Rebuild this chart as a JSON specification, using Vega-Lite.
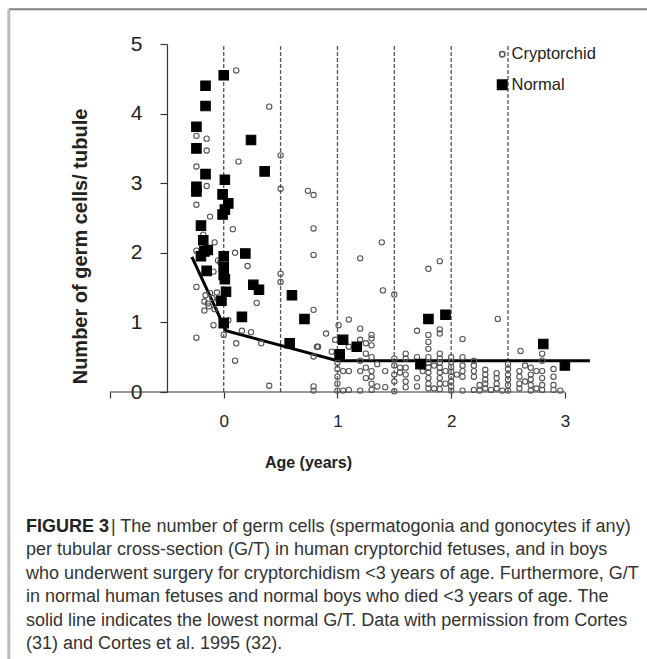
{
  "$schema": "https://vega.github.io/schema/vega-lite/v6.json",
  "autosize": {"type": "none"},
  "width": 489,
  "height": 348,
  "padding": {"left": 110, "top": 44, "right": 48, "bottom": 267},
  "background": "white",
  "config": {"view": {"stroke": null}},
  "datasets": {
    "points": [
      {"age": 0.11, "gt": 4.62, "group": "Cryptorchid"},
      {"age": 0.40, "gt": 4.10, "group": "Cryptorchid"},
      {"age": -0.24, "gt": 3.68, "group": "Cryptorchid"},
      {"age": -0.15, "gt": 3.64, "group": "Cryptorchid"},
      {"age": -0.15, "gt": 3.47, "group": "Cryptorchid"},
      {"age": 0.13, "gt": 3.31, "group": "Cryptorchid"},
      {"age": 0.50, "gt": 3.40, "group": "Cryptorchid"},
      {"age": -0.24, "gt": 3.24, "group": "Cryptorchid"},
      {"age": -0.15, "gt": 2.96, "group": "Cryptorchid"},
      {"age": 0.50, "gt": 2.92, "group": "Cryptorchid"},
      {"age": 0.74, "gt": 2.89, "group": "Cryptorchid"},
      {"age": 0.79, "gt": 2.83, "group": "Cryptorchid"},
      {"age": -0.24, "gt": 2.69, "group": "Cryptorchid"},
      {"age": -0.12, "gt": 2.52, "group": "Cryptorchid"},
      {"age": 0.08, "gt": 2.34, "group": "Cryptorchid"},
      {"age": 0.79, "gt": 2.35, "group": "Cryptorchid"},
      {"age": -0.18, "gt": 2.26, "group": "Cryptorchid"},
      {"age": -0.08, "gt": 2.15, "group": "Cryptorchid"},
      {"age": -0.24, "gt": 2.03, "group": "Cryptorchid"},
      {"age": 0.10, "gt": 2.00, "group": "Cryptorchid"},
      {"age": 0.21, "gt": 1.81, "group": "Cryptorchid"},
      {"age": 0.79, "gt": 1.97, "group": "Cryptorchid"},
      {"age": -0.05, "gt": 1.89, "group": "Cryptorchid"},
      {"age": -0.03, "gt": 1.86, "group": "Cryptorchid"},
      {"age": -0.09, "gt": 1.73, "group": "Cryptorchid"},
      {"age": -0.24, "gt": 1.51, "group": "Cryptorchid"},
      {"age": 0.50, "gt": 1.70, "group": "Cryptorchid"},
      {"age": 0.50, "gt": 1.58, "group": "Cryptorchid"},
      {"age": -0.16, "gt": 1.39, "group": "Cryptorchid"},
      {"age": -0.12, "gt": 1.42, "group": "Cryptorchid"},
      {"age": -0.06, "gt": 1.43, "group": "Cryptorchid"},
      {"age": -0.10, "gt": 1.35, "group": "Cryptorchid"},
      {"age": -0.17, "gt": 1.30, "group": "Cryptorchid"},
      {"age": -0.13, "gt": 1.23, "group": "Cryptorchid"},
      {"age": -0.17, "gt": 1.17, "group": "Cryptorchid"},
      {"age": -0.08, "gt": 1.19, "group": "Cryptorchid"},
      {"age": -0.05, "gt": 1.33, "group": "Cryptorchid"},
      {"age": -0.14, "gt": 1.27, "group": "Cryptorchid"},
      {"age": 0.29, "gt": 1.28, "group": "Cryptorchid"},
      {"age": 0.04, "gt": 1.03, "group": "Cryptorchid"},
      {"age": -0.09, "gt": 0.96, "group": "Cryptorchid"},
      {"age": -0.24, "gt": 0.78, "group": "Cryptorchid"},
      {"age": 0.00, "gt": 0.82, "group": "Cryptorchid"},
      {"age": 0.16, "gt": 0.88, "group": "Cryptorchid"},
      {"age": 0.24, "gt": 0.86, "group": "Cryptorchid"},
      {"age": 0.33, "gt": 0.70, "group": "Cryptorchid"},
      {"age": 0.11, "gt": 0.70, "group": "Cryptorchid"},
      {"age": 0.10, "gt": 0.45, "group": "Cryptorchid"},
      {"age": 0.40, "gt": 0.09, "group": "Cryptorchid"},
      {"age": 0.79, "gt": 1.18, "group": "Cryptorchid"},
      {"age": 0.82, "gt": 0.65, "group": "Cryptorchid"},
      {"age": 0.79, "gt": 0.51, "group": "Cryptorchid"},
      {"age": 0.79, "gt": 0.08, "group": "Cryptorchid"},
      {"age": 0.79, "gt": 0.02, "group": "Cryptorchid"},
      {"age": 1.39, "gt": 2.15, "group": "Cryptorchid"},
      {"age": 1.20, "gt": 1.92, "group": "Cryptorchid"},
      {"age": 1.40, "gt": 1.46, "group": "Cryptorchid"},
      {"age": 1.50, "gt": 1.40, "group": "Cryptorchid"},
      {"age": 1.80, "gt": 1.77, "group": "Cryptorchid"},
      {"age": 1.90, "gt": 1.88, "group": "Cryptorchid"},
      {"age": 2.41, "gt": 1.05, "group": "Cryptorchid"},
      {"age": 2.10, "gt": 0.76, "group": "Cryptorchid"},
      {"age": 2.61, "gt": 0.59, "group": "Cryptorchid"},
      {"age": 1.10, "gt": 1.04, "group": "Cryptorchid"},
      {"age": 1.20, "gt": 0.91, "group": "Cryptorchid"},
      {"age": 1.01, "gt": 0.96, "group": "Cryptorchid"},
      {"age": 0.90, "gt": 0.84, "group": "Cryptorchid"},
      {"age": 0.83, "gt": 0.65, "group": "Cryptorchid"},
      {"age": 1.70, "gt": 0.88, "group": "Cryptorchid"},
      {"age": 1.80, "gt": 0.82, "group": "Cryptorchid"},
      {"age": 1.80, "gt": 0.72, "group": "Cryptorchid"},
      {"age": 1.80, "gt": 0.62, "group": "Cryptorchid"},
      {"age": 1.90, "gt": 0.90, "group": "Cryptorchid"},
      {"age": 1.90, "gt": 0.84, "group": "Cryptorchid"},
      {"age": 1.30, "gt": 0.77, "group": "Cryptorchid"},
      {"age": 1.30, "gt": 0.67, "group": "Cryptorchid"},
      {"age": 1.25, "gt": 0.70, "group": "Cryptorchid"},
      {"age": 1.10, "gt": 0.65, "group": "Cryptorchid"},
      {"age": 0.95, "gt": 0.58, "group": "Cryptorchid"},
      {"age": 1.00, "gt": 0.52, "group": "Cryptorchid"},
      {"age": 1.00, "gt": 0.42, "group": "Cryptorchid"},
      {"age": 1.00, "gt": 0.33, "group": "Cryptorchid"},
      {"age": 1.00, "gt": 0.22, "group": "Cryptorchid"},
      {"age": 1.00, "gt": 0.12, "group": "Cryptorchid"},
      {"age": 1.00, "gt": 0.02, "group": "Cryptorchid"},
      {"age": 0.98, "gt": 0.75, "group": "Cryptorchid"},
      {"age": 1.05, "gt": 0.30, "group": "Cryptorchid"},
      {"age": 1.05, "gt": 0.02, "group": "Cryptorchid"},
      {"age": 1.10, "gt": 0.30, "group": "Cryptorchid"},
      {"age": 1.10, "gt": 0.03, "group": "Cryptorchid"},
      {"age": 1.20, "gt": 0.45, "group": "Cryptorchid"},
      {"age": 1.20, "gt": 0.30, "group": "Cryptorchid"},
      {"age": 1.20, "gt": 0.02, "group": "Cryptorchid"},
      {"age": 1.20, "gt": 0.75, "group": "Cryptorchid"},
      {"age": 1.25, "gt": 0.55, "group": "Cryptorchid"},
      {"age": 1.25, "gt": 0.35, "group": "Cryptorchid"},
      {"age": 1.25, "gt": 0.20, "group": "Cryptorchid"},
      {"age": 1.30, "gt": 0.50, "group": "Cryptorchid"},
      {"age": 1.30, "gt": 0.30, "group": "Cryptorchid"},
      {"age": 1.30, "gt": 0.22, "group": "Cryptorchid"},
      {"age": 1.30, "gt": 0.12, "group": "Cryptorchid"},
      {"age": 1.30, "gt": 0.03, "group": "Cryptorchid"},
      {"age": 1.30, "gt": 0.82, "group": "Cryptorchid"},
      {"age": 1.35, "gt": 0.40, "group": "Cryptorchid"},
      {"age": 1.35, "gt": 0.08, "group": "Cryptorchid"},
      {"age": 1.42, "gt": 0.30, "group": "Cryptorchid"},
      {"age": 1.42, "gt": 0.07, "group": "Cryptorchid"},
      {"age": 1.50, "gt": 0.48, "group": "Cryptorchid"},
      {"age": 1.50, "gt": 0.38, "group": "Cryptorchid"},
      {"age": 1.50, "gt": 0.25, "group": "Cryptorchid"},
      {"age": 1.50, "gt": 0.15, "group": "Cryptorchid"},
      {"age": 1.50, "gt": 0.01, "group": "Cryptorchid"},
      {"age": 1.55, "gt": 0.35, "group": "Cryptorchid"},
      {"age": 1.55, "gt": 0.28, "group": "Cryptorchid"},
      {"age": 1.60, "gt": 0.55, "group": "Cryptorchid"},
      {"age": 1.60, "gt": 0.48, "group": "Cryptorchid"},
      {"age": 1.60, "gt": 0.35, "group": "Cryptorchid"},
      {"age": 1.60, "gt": 0.25, "group": "Cryptorchid"},
      {"age": 1.60, "gt": 0.15, "group": "Cryptorchid"},
      {"age": 1.60, "gt": 0.07, "group": "Cryptorchid"},
      {"age": 1.70, "gt": 0.50, "group": "Cryptorchid"},
      {"age": 1.70, "gt": 0.20, "group": "Cryptorchid"},
      {"age": 1.70, "gt": 0.08, "group": "Cryptorchid"},
      {"age": 1.75, "gt": 0.38, "group": "Cryptorchid"},
      {"age": 1.75, "gt": 0.30, "group": "Cryptorchid"},
      {"age": 1.80, "gt": 0.50, "group": "Cryptorchid"},
      {"age": 1.80, "gt": 0.42, "group": "Cryptorchid"},
      {"age": 1.80, "gt": 0.35, "group": "Cryptorchid"},
      {"age": 1.80, "gt": 0.28, "group": "Cryptorchid"},
      {"age": 1.80, "gt": 0.20, "group": "Cryptorchid"},
      {"age": 1.80, "gt": 0.12, "group": "Cryptorchid"},
      {"age": 1.80, "gt": 0.05, "group": "Cryptorchid"},
      {"age": 1.85, "gt": 0.38, "group": "Cryptorchid"},
      {"age": 1.85, "gt": 0.05, "group": "Cryptorchid"},
      {"age": 1.90, "gt": 0.55, "group": "Cryptorchid"},
      {"age": 1.90, "gt": 0.48, "group": "Cryptorchid"},
      {"age": 1.90, "gt": 0.42, "group": "Cryptorchid"},
      {"age": 1.90, "gt": 0.35, "group": "Cryptorchid"},
      {"age": 1.90, "gt": 0.28, "group": "Cryptorchid"},
      {"age": 1.90, "gt": 0.20, "group": "Cryptorchid"},
      {"age": 1.90, "gt": 0.12, "group": "Cryptorchid"},
      {"age": 1.90, "gt": 0.04, "group": "Cryptorchid"},
      {"age": 1.95, "gt": 0.30, "group": "Cryptorchid"},
      {"age": 1.95, "gt": 0.12, "group": "Cryptorchid"},
      {"age": 2.00, "gt": 0.50, "group": "Cryptorchid"},
      {"age": 2.00, "gt": 0.43, "group": "Cryptorchid"},
      {"age": 2.00, "gt": 0.36, "group": "Cryptorchid"},
      {"age": 2.00, "gt": 0.29, "group": "Cryptorchid"},
      {"age": 2.00, "gt": 0.22, "group": "Cryptorchid"},
      {"age": 2.00, "gt": 0.15, "group": "Cryptorchid"},
      {"age": 2.00, "gt": 0.08, "group": "Cryptorchid"},
      {"age": 2.00, "gt": 0.02, "group": "Cryptorchid"},
      {"age": 2.05, "gt": 0.25, "group": "Cryptorchid"},
      {"age": 2.10, "gt": 0.50, "group": "Cryptorchid"},
      {"age": 2.10, "gt": 0.38, "group": "Cryptorchid"},
      {"age": 2.10, "gt": 0.30, "group": "Cryptorchid"},
      {"age": 2.10, "gt": 0.22, "group": "Cryptorchid"},
      {"age": 2.10, "gt": 0.02, "group": "Cryptorchid"},
      {"age": 2.20, "gt": 0.45, "group": "Cryptorchid"},
      {"age": 2.20, "gt": 0.38, "group": "Cryptorchid"},
      {"age": 2.20, "gt": 0.30, "group": "Cryptorchid"},
      {"age": 2.20, "gt": 0.22, "group": "Cryptorchid"},
      {"age": 2.20, "gt": 0.03, "group": "Cryptorchid"},
      {"age": 2.25, "gt": 0.10, "group": "Cryptorchid"},
      {"age": 2.25, "gt": 0.02, "group": "Cryptorchid"},
      {"age": 2.30, "gt": 0.32, "group": "Cryptorchid"},
      {"age": 2.30, "gt": 0.25, "group": "Cryptorchid"},
      {"age": 2.30, "gt": 0.18, "group": "Cryptorchid"},
      {"age": 2.30, "gt": 0.12, "group": "Cryptorchid"},
      {"age": 2.30, "gt": 0.05, "group": "Cryptorchid"},
      {"age": 2.35, "gt": 0.03, "group": "Cryptorchid"},
      {"age": 2.40, "gt": 0.27, "group": "Cryptorchid"},
      {"age": 2.40, "gt": 0.20, "group": "Cryptorchid"},
      {"age": 2.40, "gt": 0.12, "group": "Cryptorchid"},
      {"age": 2.40, "gt": 0.05, "group": "Cryptorchid"},
      {"age": 2.45, "gt": 0.02, "group": "Cryptorchid"},
      {"age": 2.50, "gt": 0.40, "group": "Cryptorchid"},
      {"age": 2.50, "gt": 0.33, "group": "Cryptorchid"},
      {"age": 2.50, "gt": 0.25, "group": "Cryptorchid"},
      {"age": 2.50, "gt": 0.18, "group": "Cryptorchid"},
      {"age": 2.50, "gt": 0.10, "group": "Cryptorchid"},
      {"age": 2.50, "gt": 0.02, "group": "Cryptorchid"},
      {"age": 2.60, "gt": 0.30, "group": "Cryptorchid"},
      {"age": 2.60, "gt": 0.22, "group": "Cryptorchid"},
      {"age": 2.60, "gt": 0.12, "group": "Cryptorchid"},
      {"age": 2.60, "gt": 0.05, "group": "Cryptorchid"},
      {"age": 2.65, "gt": 0.38, "group": "Cryptorchid"},
      {"age": 2.65, "gt": 0.15, "group": "Cryptorchid"},
      {"age": 2.70, "gt": 0.35, "group": "Cryptorchid"},
      {"age": 2.70, "gt": 0.25, "group": "Cryptorchid"},
      {"age": 2.70, "gt": 0.18, "group": "Cryptorchid"},
      {"age": 2.70, "gt": 0.10, "group": "Cryptorchid"},
      {"age": 2.70, "gt": 0.02, "group": "Cryptorchid"},
      {"age": 2.75, "gt": 0.30, "group": "Cryptorchid"},
      {"age": 2.75, "gt": 0.05, "group": "Cryptorchid"},
      {"age": 2.80, "gt": 0.55, "group": "Cryptorchid"},
      {"age": 2.80, "gt": 0.45, "group": "Cryptorchid"},
      {"age": 2.80, "gt": 0.30, "group": "Cryptorchid"},
      {"age": 2.80, "gt": 0.20, "group": "Cryptorchid"},
      {"age": 2.80, "gt": 0.10, "group": "Cryptorchid"},
      {"age": 2.80, "gt": 0.03, "group": "Cryptorchid"},
      {"age": 2.90, "gt": 0.33, "group": "Cryptorchid"},
      {"age": 2.90, "gt": 0.22, "group": "Cryptorchid"},
      {"age": 2.90, "gt": 0.10, "group": "Cryptorchid"},
      {"age": 2.90, "gt": 0.03, "group": "Cryptorchid"},
      {"age": 2.96, "gt": 0.02, "group": "Cryptorchid"},
      {"age": 0.00, "gt": 4.55, "group": "Normal"},
      {"age": -0.16, "gt": 4.40, "group": "Normal"},
      {"age": -0.16, "gt": 4.11, "group": "Normal"},
      {"age": -0.24, "gt": 3.81, "group": "Normal"},
      {"age": -0.24, "gt": 3.50, "group": "Normal"},
      {"age": 0.24, "gt": 3.62, "group": "Normal"},
      {"age": -0.16, "gt": 3.13, "group": "Normal"},
      {"age": 0.36, "gt": 3.17, "group": "Normal"},
      {"age": 0.01, "gt": 3.05, "group": "Normal"},
      {"age": -0.24, "gt": 2.95, "group": "Normal"},
      {"age": -0.24, "gt": 2.88, "group": "Normal"},
      {"age": -0.01, "gt": 2.84, "group": "Normal"},
      {"age": 0.04, "gt": 2.71, "group": "Normal"},
      {"age": 0.01, "gt": 2.62, "group": "Normal"},
      {"age": -0.01, "gt": 2.55, "group": "Normal"},
      {"age": -0.20, "gt": 2.39, "group": "Normal"},
      {"age": -0.18, "gt": 2.18, "group": "Normal"},
      {"age": -0.17, "gt": 2.02, "group": "Normal"},
      {"age": -0.20, "gt": 1.95, "group": "Normal"},
      {"age": -0.14, "gt": 2.04, "group": "Normal"},
      {"age": -0.15, "gt": 1.74, "group": "Normal"},
      {"age": 0.00, "gt": 1.95, "group": "Normal"},
      {"age": 0.00, "gt": 1.80, "group": "Normal"},
      {"age": 0.00, "gt": 1.68, "group": "Normal"},
      {"age": 0.01, "gt": 1.62, "group": "Normal"},
      {"age": 0.02, "gt": 1.44, "group": "Normal"},
      {"age": -0.02, "gt": 1.31, "group": "Normal"},
      {"age": 0.00, "gt": 0.99, "group": "Normal"},
      {"age": 0.19, "gt": 1.99, "group": "Normal"},
      {"age": 0.26, "gt": 1.54, "group": "Normal"},
      {"age": 0.31, "gt": 1.47, "group": "Normal"},
      {"age": 0.16, "gt": 1.08, "group": "Normal"},
      {"age": 0.60, "gt": 1.39, "group": "Normal"},
      {"age": 0.71, "gt": 1.05, "group": "Normal"},
      {"age": 0.58, "gt": 0.70, "group": "Normal"},
      {"age": 1.05, "gt": 0.75, "group": "Normal"},
      {"age": 1.17, "gt": 0.65, "group": "Normal"},
      {"age": 1.02, "gt": 0.54, "group": "Normal"},
      {"age": 1.73, "gt": 0.40, "group": "Normal"},
      {"age": 1.80, "gt": 1.05, "group": "Normal"},
      {"age": 1.95, "gt": 1.11, "group": "Normal"},
      {"age": 2.81, "gt": 0.69, "group": "Normal"},
      {"age": 3.00, "gt": 0.38, "group": "Normal"}
    ],
    "lowest": [
      {"age": -0.28, "gt": 1.94},
      {"age": 0.02, "gt": 0.88},
      {"age": 1.00, "gt": 0.45},
      {"age": 3.22, "gt": 0.45}
    ],
    "cuts": [
      {"age": 0}, {"age": 0.5}, {"age": 1}, {"age": 1.5}, {"age": 2}, {"age": 2.5}
    ],
    "one": [{}]
  },
  "title": {
    "text": "FIGURE 3",
    "subtitle": [
      "\u200b\u00a0\u00a0\u00a0\u00a0\u00a0\u00a0\u00a0\u00a0\u00a0\u00a0\u00a0\u00a0\u00a0\u00a0\u00a0\u00a0\u00a0| The number of germ cells (spermatogonia and gonocytes if any)",
      "per tubular cross-section (G/T) in human cryptorchid fetuses, and in boys",
      "who underwent surgery for cryptorchidism <3 years of age. Furthermore, G/T",
      "in normal human fetuses and normal boys who died <3 years of age. The",
      "solid line indicates the lowest normal G/T. Data with permission from Cortes",
      "(31) and Cortes et al. 1995 (32)."
    ],
    "orient": "bottom",
    "anchor": "start",
    "frame": "group",
    "dx": -84,
    "offset": -143,
    "font": "Liberation Sans",
    "fontSize": 18,
    "fontWeight": "bold",
    "color": "#222222",
    "lineHeight": 23.5,
    "subtitleFont": "Liberation Sans",
    "subtitleFontSize": 18,
    "subtitleColor": "#333333",
    "subtitleLineHeight": 23.5,
    "subtitlePadding": -18
  },
  "layer": [
    {
      "data": {"name": "cuts"},
      "mark": {"type": "rule", "color": "#555555", "strokeWidth": 1.3, "strokeDash": [4, 2]},
      "encoding": {
        "x": {"field": "age", "type": "quantitative"},
        "y": {"datum": 0, "type": "quantitative"},
        "y2": {"datum": 5}
      }
    },
    {
      "data": {"name": "one"},
      "mark": {"type": "rule", "color": "#333333", "strokeWidth": 1.2},
      "encoding": {
        "x": {"datum": -1, "type": "quantitative"},
        "x2": {"datum": 3},
        "y": {"datum": 0, "type": "quantitative"}
      }
    },
    {
      "data": {"name": "one"},
      "mark": {"type": "rule", "color": "#808080", "strokeWidth": 2},
      "encoding": {
        "x": {"datum": -1.89, "type": "quantitative"},
        "x2": {"datum": 3.75},
        "y": {"datum": 5.5, "type": "quantitative"}
      }
    },
    {
      "data": {"name": "one"},
      "mark": {"type": "rule", "color": "#bbbbbb", "strokeWidth": 3},
      "encoding": {
        "x": {"datum": -1.89, "type": "quantitative"},
        "y": {"datum": 5.5, "type": "quantitative"},
        "y2": {"datum": -3.84}
      }
    },
    {
      "data": {"name": "lowest"},
      "mark": {"type": "line", "color": "#000000", "strokeWidth": 3},
      "encoding": {
        "x": {"field": "age", "type": "quantitative"},
        "y": {"field": "gt", "type": "quantitative"}
      }
    },
    {
      "data": {"name": "points"},
      "mark": {"type": "point", "opacity": 1, "strokeWidth": 1.1},
      "encoding": {
        "x": {
          "field": "age",
          "type": "quantitative",
          "scale": {"domain": [-1, 3.3], "nice": false, "zero": false},
          "axis": {
            "title": "Age (years)",
            "titleFont": "Liberation Sans",
            "titleFontSize": 16,
            "titleFontWeight": "bold",
            "titleColor": "#222222",
            "titleX": 198,
            "titleY": 70,
            "titleBaseline": "middle",
            "domain": false,
            "grid": false,
            "values": [-1, 0, 1, 2, 3],
            "format": "d",
            "labelExpr": "datum.value < 0 ? '' : datum.label",
            "tickSize": 6,
            "tickColor": "#333333",
            "tickWidth": 1.2,
            "labelFont": "Liberation Sans Narrow, Liberation Sans",
            "labelFontSize": 17,
            "labelColor": "#222222",
            "labelPadding": 15
          }
        },
        "y": {
          "field": "gt",
          "type": "quantitative",
          "scale": {"domain": [0, 5], "nice": false},
          "axis": {
            "title": "Number of germ cells/ tubule",
            "titleFont": "Liberation Sans",
            "titleFontSize": 20,
            "titleFontWeight": "bold",
            "titleColor": "#222222",
            "titlePadding": 40,
            "titleY": 202,
            "offset": -57,
            "values": [0, 1, 2, 3, 4, 5],
            "format": "d",
            "grid": false,
            "domainColor": "#333333",
            "domainWidth": 1.2,
            "tickSize": 7,
            "tickColor": "#333333",
            "tickWidth": 1.2,
            "labelFont": "Liberation Sans Narrow, Liberation Sans",
            "labelFontSize": 21,
            "labelColor": "#222222",
            "labelPadding": 18
          }
        },
        "shape": {
          "field": "group",
          "type": "nominal",
          "scale": {"domain": ["Cryptorchid", "Normal"], "range": ["circle", "square"]},
          "legend": {
            "title": null,
            "orient": "none",
            "legendX": 384,
            "legendY": 2,
            "labelFont": "Liberation Sans Narrow, Liberation Sans",
            "labelFontSize": 16.5,
            "labelColor": "#222222",
            "rowPadding": 13.5,
            "labelOffset": 1
          }
        },
        "size": {
          "field": "group",
          "type": "nominal",
          "scale": {"domain": ["Cryptorchid", "Normal"], "range": [28, 90]},
          "legend": {
            "title": null,
            "orient": "none",
            "legendX": 384,
            "legendY": 2,
            "labelFont": "Liberation Sans Narrow, Liberation Sans",
            "labelFontSize": 16.5,
            "labelColor": "#222222",
            "rowPadding": 13.5,
            "labelOffset": 1
          }
        },
        "fill": {
          "field": "group",
          "type": "nominal",
          "scale": {"domain": ["Cryptorchid", "Normal"], "range": ["transparent", "#000000"]},
          "legend": {
            "title": null,
            "orient": "none",
            "legendX": 384,
            "legendY": 2,
            "labelFont": "Liberation Sans Narrow, Liberation Sans",
            "labelFontSize": 16.5,
            "labelColor": "#222222",
            "rowPadding": 13.5,
            "labelOffset": 1
          }
        },
        "stroke": {
          "field": "group",
          "type": "nominal",
          "scale": {"domain": ["Cryptorchid", "Normal"], "range": ["#555555", "#000000"]},
          "legend": {
            "title": null,
            "orient": "none",
            "legendX": 384,
            "legendY": 2,
            "labelFont": "Liberation Sans Narrow, Liberation Sans",
            "labelFontSize": 16.5,
            "labelColor": "#222222",
            "rowPadding": 13.5,
            "labelOffset": 1
          }
        }
      }
    }
  ]
}
